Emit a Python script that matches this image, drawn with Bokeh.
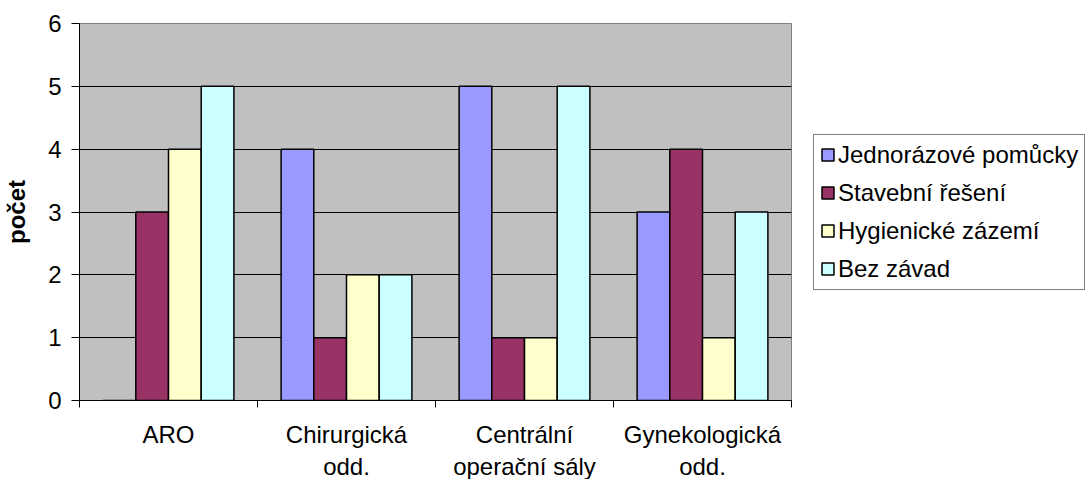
from bokeh.plotting import figure
from bokeh.models import Range1d, FixedTicker, Legend, LegendItem, ColumnDataSource
from bokeh.embed import file_html
from bokeh.resources import INLINE

categories = ["ARO", "Chirurgická\nodd.", "Centrální\noperační sály", "Gynekologická\nodd."]
series_names = ["Jednorázové pomůcky", "Stavební řešení", "Hygienické zázemí", "Bez závad"]
jednorazove = [0, 4, 5, 3]
stavebni = [3, 1, 1, 4]
hygienicke = [4, 2, 1, 1]
bez_zavad = [5, 2, 5, 3]
y_ticks = [0, 1, 2, 3, 4, 5, 6]

series_values = [jednorazove, stavebni, hygienicke, bez_zavad]
colors = ["#9999FF", "#993366", "#FFFFCC", "#CCFFFF"]

FONT = "Liberation Sans"
FS = "24px"

p = figure(frame_width=712, frame_height=377, output_backend="svg", toolbar_location=None,
           x_range=Range1d(0, 4), y_range=Range1d(0, 6),
           min_border_left=78, min_border_right=0, min_border_top=23, min_border_bottom=0)
p.background_fill_color = "#C0C0C0"
p.border_fill_color = "white"
p.outline_line_color = "#808080"
p.outline_line_width = 1

bw = 0.1837
centers = [i + 0.5 for i in range(len(categories))]
renderers = []
for k, (vals, col) in enumerate(zip(series_values, colors)):
    xs = [c + (k - 1.5) * bw for c in centers]
    src = ColumnDataSource(dict(x=xs, top=vals))
    r = p.vbar(x="x", top="top", width=bw, source=src, fill_color=col,
               line_color="black", line_width=1.5)
    renderers.append(r)

# x axis
xa = p.xaxis[0]
xa.ticker = FixedTicker(ticks=centers, minor_ticks=[0, 1, 2, 3, 4])
xa.major_label_overrides = {c: lab for c, lab in zip(centers, categories)}
xa.major_tick_out = 0
xa.major_tick_in = 0
xa.minor_tick_out = 7
xa.minor_tick_in = 0
xa.minor_tick_line_color = "black"
xa.axis_line_color = "black"
xa.major_label_standoff = 13
xa.major_label_text_font = FONT
xa.major_label_text_font_size = FS
xa.major_label_text_color = "black"

# y axis
ya = p.yaxis[0]
ya.ticker = FixedTicker(ticks=y_ticks)
ya.major_tick_out = 8
ya.major_tick_in = 0
ya.minor_tick_line_color = None
ya.axis_line_color = "black"
ya.major_label_standoff = 10
ya.major_label_text_font = FONT
ya.major_label_text_font_size = FS
ya.major_label_text_color = "black"
ya.axis_label = "počet"
ya.axis_label_text_font = FONT
ya.axis_label_text_font_size = FS
ya.axis_label_text_font_style = "bold"
ya.axis_label_text_color = "black"
ya.axis_label_standoff = 15

p.xgrid.grid_line_color = None
p.ygrid.grid_line_color = "black"
p.ygrid.grid_line_width = 1
p.ygrid.ticker = FixedTicker(ticks=[1, 2, 3, 4, 5])

legend = Legend(items=[LegendItem(label=n, renderers=[r]) for n, r in zip(series_names, renderers)],
                location="center_left", orientation="vertical")
legend.border_line_color = "black"
legend.border_line_width = 1
legend.background_fill_color = "white"
legend.background_fill_alpha = 1
legend.label_text_font = FONT
legend.label_text_font_size = FS
legend.label_text_color = "black"
legend.glyph_width = 15
legend.glyph_height = 15
legend.label_standoff = 3
legend.spacing = 10
legend.padding = 6
legend.margin = 22
p.add_layout(legend, "right")

open("out.html", "w").write(file_html(p, INLINE))
